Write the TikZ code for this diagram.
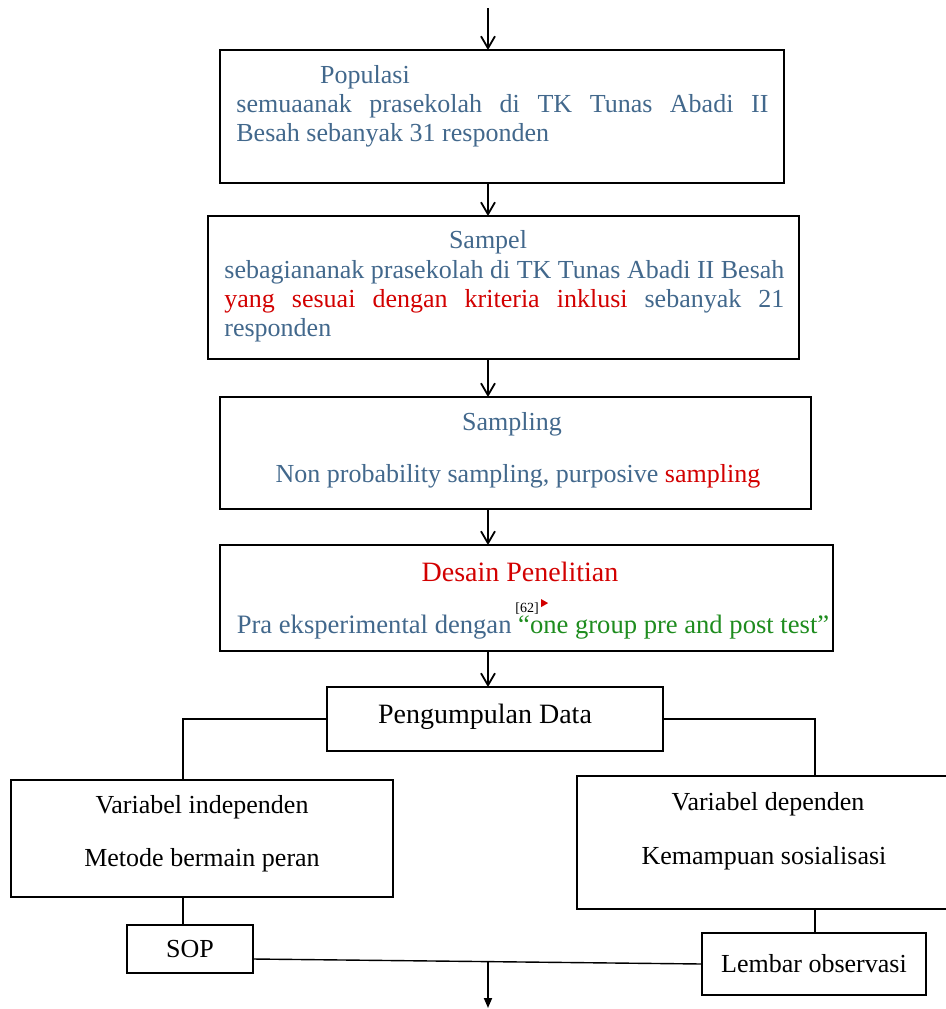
\documentclass[tikz,border=0pt]{standalone}
\usepackage{fontspec}
\setmainfont{Liberation Serif}
\usepackage{xcolor}
\usepackage{tikz}
\usetikzlibrary{arrows.meta, positioning, calc}

\definecolor{txtblue}{RGB}{66,104,140}
\definecolor{txtred}{RGB}{210,0,0}
\definecolor{txtgreen}{RGB}{30,140,30}

\begin{document}
\begin{tikzpicture}[x=0.5pt, y=-0.5pt,
    box/.style={rectangle, draw=black, line width=0.7pt, inner sep=0pt, outer sep=0pt, font=\fontsize{13}{14.5}\selectfont},
    txt/.style={inner sep=0pt, anchor=base, font=\fontsize{13}{14.5}\selectfont},
    body/.style={inner sep=0pt, anchor=base west, align=left, text=txtblue, font=\fontsize{13}{14.5}\selectfont},
    line/.style={draw, line width=0.9pt, -{Straight Barb[length=6pt, width=7pt]}},
    link/.style={draw, line width=0.7pt}]

    \useasboundingbox (0,0) rectangle (946,1009);

    \coordinate (ax) at (488,0);
    \coordinate (lx) at (183,0);
    \coordinate (rx) at (815,0);
    \coordinate (start) at (488,8);
    \coordinate (join) at (488,961);
    \coordinate (end) at (488,1008);

    % populasi
    \node [box, minimum width=282pt, minimum height=66.5pt] (pop) at (502,116.5) {};
    \node [txt, text=txtblue] (popt) at (365,83) {Populasi};
    \node [body, text width=266pt] (popb) at (236,112) {\spaceskip=0pt\xspaceskip=0pt
        \makebox[266pt][s]{semuaanak prasekolah di TK Tunas Abadi II}\\Besah sebanyak 31 responden};

    % sampel
    \node [box, minimum width=295.5pt, minimum height=71.5pt] (samp) at (503.5,287.5) {};
    \node [txt, text=txtblue] (sampt) at (488,248) {Sampel};
    \node [body, text width=280pt] (sampb) at (224,278) {\spaceskip=0pt\xspaceskip=0pt
        \makebox[280pt][s]{sebagiananak prasekolah di TK Tunas Abadi II Besah}\\
        \makebox[280pt][s]{\textcolor{txtred}{yang sesuai dengan kriteria inklusi} sebanyak 21}\\responden};

    % sampling
    \node [box, minimum width=295.5pt, minimum height=56pt] (smpl) at (515.5,453) {};
    \node [txt, text=txtblue] (smplt) at (512,430) {Sampling};
    \node [txt, text=txtblue] (smplb) at (518,482) {Non probability sampling, purposive \textcolor{txtred}{sampling}};

    % desain
    \node [box, minimum width=306.5pt, minimum height=53pt] (dsn) at (526.5,598) {};
    \node [txt, text=txtred, font=\fontsize{14}{16}\selectfont] (dsnt) at (520,581) {Desain Penelitian};
    \node [txt, text=txtblue, font=\fontsize{13.3}{15}\selectfont] (dsnb) at (533,633) {Pra eksperimental dengan \textcolor{txtgreen}{“one group pre and post test”}};
    \node [inner sep=0pt, anchor=base west, font=\fontsize{7}{8}\selectfont] (ref) at (515,612) {[62]};
    \fill [txtred] ($(ref.east)+(2,-9)$) -- ($(ref.east)+(9,-5)$) -- ($(ref.east)+(2,-1)$) -- cycle;

    % pengumpulan data
    \node [box, minimum width=168pt, minimum height=32pt] (data) at (495,719) {};
    \node [txt, font=\fontsize{14}{16}\selectfont] (datat) at (485,723) {Pengumpulan Data};

    \node [box, minimum width=191pt, minimum height=58.5pt] (indep) at (202,838.5) {};
    \node [txt] (indept) at (202,813) {Variabel independen};
    \node [txt] (indepb) at (202,866) {Metode bermain peran};

    \node [box, minimum width=186.5pt, minimum height=66.5pt] (dep) at (763.5,842.5) {};
    \node [txt] (dept) at (768,810) {Variabel dependen};
    \node [txt] (depb) at (764,864) {Kemampuan sosialisasi};

    \node [box, minimum width=63pt, minimum height=24pt] (sop) at (190,949) {SOP};
    \node [box, minimum width=112pt, minimum height=31pt] (lbr) at (814,964) {Lembar observasi};

    % arrows
    \path [line] (start) -- (pop.north -| ax);
    \path [line] (pop.south -| ax) -- (samp.north -| ax);
    \path [line] (samp.south -| ax) -- (smpl.north -| ax);
    \path [line] (smpl.south -| ax) -- (dsn.north -| ax);
    \path [line] (dsn.south -| ax) -- (data.north -| ax);

    \path [link] (data.west) -| (indep.north -| lx);
    \path [link] (data.east) -| (dep.north -| rx);
    \path [link] (indep.south -| lx) -- (sop.north -| lx);
    \path [link] (dep.south -| rx) -- (lbr.north -| rx);
    \path [link] ([yshift=-5pt]sop.east) -- (lbr.west);
    \path [line, -{Triangle[length=5pt, width=4pt]}] (join) -- (end);
\end{tikzpicture}
\end{document}
